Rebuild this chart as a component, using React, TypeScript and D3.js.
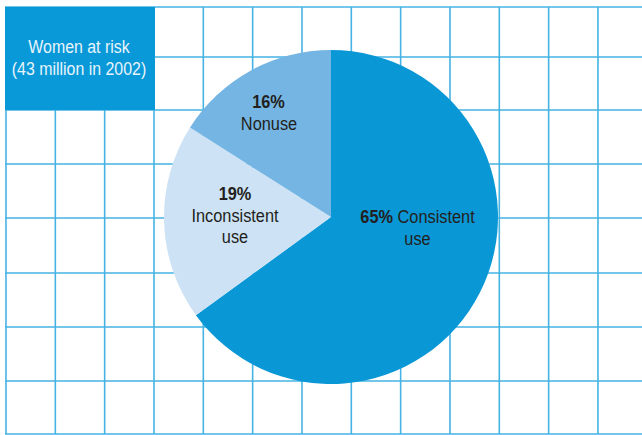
import React from "react";
import * as d3 from "d3";

const categories = ["Consistent use", "Inconsistent use", "Nonuse"];
const values = [65, 19, 16];
const colors = ["#0a97d6", "#cde3f5", "#74b5e3"];
const pctLabels = ["65%", "19%", "16%"];
const titleLines = ["Women at risk", "(43 million in 2002)"];

const W = 642;
const H = 435;
const colX = d3.range(13).map((i) => i);
const rowY = [7, 57, 110, 164, 218, 273, 327, 381, 434];

const FONT = "'Liberation Sans', Arial, sans-serif";
const SX = 0.86;

function T({ x, y, children, bold, fill, size }: any) {
  return (
    <text
      transform={`translate(${x},${y}) scale(${SX},1)`}
      textAnchor="middle"
      fontFamily={FONT}
      fontSize={size}
      fontWeight={bold ? "bold" : "normal"}
      fill={fill}
    >
      {children}
    </text>
  );
}

export default function App() {
  const xScale = d3.scaleLinear().domain([0, 1]).range([6, 55.33]);
  const cx = 331;
  const cy = 217;
  const r = 167;
  const pie = d3.pie<number>().sort(null).value((d) => d);
  const arcs = pie(values);
  const arcGen = d3.arc<d3.PieArcDatum<number>>().innerRadius(0).outerRadius(r);
  const gridColor = "#45b3e3";
  const textColor = "#231f20";
  const fs = 19;
  return (
    <svg
      width={W}
      height={H}
      style={{ position: "absolute", left: 0, top: 0, background: "#fff" }}
    >
      <g>
        {colX.map((i) => (
          <line
            key={"v" + i}
            x1={xScale(i)}
            x2={xScale(i)}
            y1={rowY[0]}
            y2={rowY[rowY.length - 1]}
            stroke={gridColor}
            strokeWidth={1.6}
          />
        ))}
        {rowY.map((y, i) => (
          <line key={"h" + i} x1={5} x2={W} y1={y} y2={y} stroke={gridColor} strokeWidth={1.6} />
        ))}
      </g>
      <rect x={5} y={7} width={150} height={103} fill="#0a99d8" />
      {titleLines.map((t, i) => (
        <T key={t} x={79} y={53 + i * 22} fill="#e8f4fb" size={18.5}>
          {t}
        </T>
      ))}
      <g transform={`translate(${cx},${cy})`}>
        {arcs.map((a, i) => (
          <path key={categories[i]} d={arcGen(a) || ""} fill={colors[i]} />
        ))}
      </g>
      <text
        transform={`translate(417.5,223) scale(${SX},1)`}
        textAnchor="middle"
        fontFamily={FONT}
        fontSize={fs}
        fill={textColor}
      >
        <tspan fontWeight="bold">{pctLabels[0]}</tspan>
        <tspan> Consistent</tspan>
      </text>
      <T x={417.5} y={245} size={fs} fill={textColor}>use</T>
      <T x={235} y={200} size={fs} fill={textColor} bold>{pctLabels[1]}</T>
      <T x={235} y={222} size={fs} fill={textColor}>Inconsistent</T>
      <T x={235} y={243} size={fs} fill={textColor}>use</T>
      <T x={268.5} y={108} size={fs} fill={textColor} bold>{pctLabels[2]}</T>
      <T x={269} y={130} size={fs} fill={textColor}>Nonuse</T>
    </svg>
  );
}
